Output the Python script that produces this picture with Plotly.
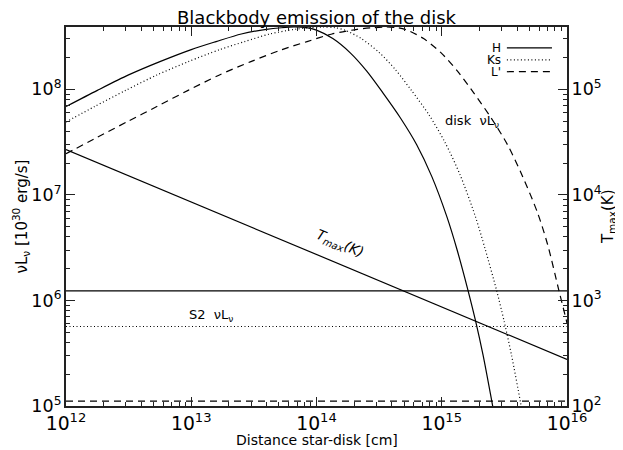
import plotly.graph_objects as go

# disk nuL_nu curves (distance in cm, nuL_nu in 1e30 erg/s)
h_dist = [1.00e12, 1.78e12, 3.16e12, 5.62e12, 1.00e13, 1.58e13, 2.51e13, 3.98e13, 5.25e13,
          6.61e13, 8.32e13, 1.00e14, 1.35e14, 1.86e14, 2.51e14, 3.39e14, 4.68e14, 6.31e14,
          8.32e14, 1.10e15, 1.32e15, 1.62e15, 1.86e15, 2.14e15, 2.51e15, 2.69e15]
h_lum = [6.86e7, 9.77e7, 1.368e8, 1.828e8, 2.377e8, 2.831e8, 3.342e8, 3.698e8, 3.828e8,
         3.89e8, 3.837e8, 3.63e8, 3.02e8, 2.213e8, 1.493e8, 9.25e7, 5.35e7, 2.985e7,
         1.496e7, 6.18e6, 3.07e6, 1.247e6, 6.43e5, 3.01e5, 1.107e5, 7.08e4]

ks_dist = [1.00e12, 1.69e12, 3.00e12, 5.33e12, 9.48e12, 1.69e13, 2.67e13, 4.24e13, 6.71e13,
           8.85e13, 1.11e14, 1.40e14, 1.69e14, 2.28e14, 3.14e14, 4.24e14, 5.71e14, 7.89e14,
           1.06e15, 1.40e15, 1.85e15, 2.22e15, 2.74e15, 3.14e15, 3.61e15, 4.24e15, 4.54e15]
ks_lum = [4.90e7, 6.86e7, 9.77e7, 1.368e8, 1.828e8, 2.377e8, 2.831e8, 3.342e8, 3.698e8,
          3.828e8, 3.89e8, 3.837e8, 3.63e8, 3.02e8, 2.25e8, 1.55e8, 9.8e7, 5.75e7,
          3.15e7, 1.55e7, 6.30e6, 3.07e6, 1.247e6, 6.43e5, 3.01e5, 1.107e5, 7.08e4]

lp_dist = [1.00e12, 1.78e12, 3.16e12, 5.31e12, 9.44e12, 1.68e13, 2.99e13, 5.31e13, 8.41e13,
           1.33e14, 2.11e14, 2.79e14, 3.51e14, 4.42e14, 5.31e14, 7.16e14, 9.89e14, 1.33e15,
           1.80e15, 2.48e15, 3.35e15, 4.42e15, 5.82e15, 7.00e15, 8.61e15, 9.89e15, 1.00e16]
lp_lum = [2.45e7, 3.51e7, 5.01e7, 6.86e7, 9.77e7, 1.368e8, 1.828e8, 2.377e8, 2.831e8,
          3.342e8, 3.698e8, 3.828e8, 3.89e8, 3.837e8, 3.63e8, 3.02e8, 2.213e8, 1.493e8,
          9.25e7, 5.35e7, 2.985e7, 1.496e7, 6.76e6, 3.39e6, 1.247e6, 6.43e5, 6.03e5]

# S2 nuL_nu levels (H, Ks, L')
s2_dist = [1e12, 1e16]
s2_h = 1.23e6
s2_ks = 5.66e5
s2_lp = 1.11e5

# maximum temperature of the disk (K), right axis
tmax_dist = [1e12, 1e16]
tmax = [2.69e4, 2.76e2]

bands = ["H", "Ks", "L'"]
dashes = ["solid", "1px,2.5px", "7px,5px"]

FONT = "DejaVu Sans"
lw = 1.2

fig = go.Figure()
curves = [(h_dist, h_lum), (ks_dist, ks_lum), (lp_dist, lp_lum)]
for (d, l), name, dsh in zip(curves, bands, dashes):
    fig.add_trace(go.Scatter(x=d, y=l, mode="lines", name=name, line_shape="spline",
                             line=dict(color="black", width=lw, dash=dsh, smoothing=0.8),
                             showlegend=False))

for lev, dsh in zip([s2_h, s2_ks, s2_lp], dashes):
    fig.add_trace(go.Scatter(x=s2_dist, y=[lev, lev], mode="lines",
                             line=dict(color="black", width=lw, dash=dsh), showlegend=False))

fig.add_trace(go.Scatter(x=tmax_dist, y=tmax, mode="lines", yaxis="y2",
                         line=dict(color="black", width=lw), showlegend=False))

axis_common = dict(type="log", showgrid=False, zeroline=False, showline=True, automargin=False,
                   linecolor="#222", linewidth=1.5, ticks="inside", ticklen=9,
                   tickcolor="#222", tickwidth=1, exponentformat="power", dtick=1,
                   tickfont=dict(family=FONT, size=15, color="black"),
                   minor=dict(ticks="inside", ticklen=4, tickcolor="#222", showgrid=False))

# the page body adds an 8px offset, so margins are shifted to keep the frame in place
fig.update_layout(
    width=623, height=450,
    margin=dict(l=58, r=64, t=19, b=52),
    paper_bgcolor="white", plot_bgcolor="white",
    font=dict(family=FONT, color="black"),
    title=dict(text="Blackbody emission of the disk", x=0.4952, xanchor="center",
               y=0.978, yanchor="middle", font=dict(size=18, family=FONT)),
    xaxis=dict(axis_common, range=[12, 16], mirror="ticks"),
    yaxis=dict(axis_common, range=[5, 8.59], tickfont=dict(family=FONT, size=14, color="black")),
    yaxis2=dict(axis_common, range=[2, 5.59], overlaying="y", side="right",
                tickfont=dict(family=FONT, size=14, color="black")),
)


def note(text, x, y, size, angle=0, anchor="center"):
    fig.add_annotation(text=text, xref="paper", yref="paper", x=x, y=y, xanchor=anchor,
                       yanchor="middle", textangle=angle, showarrow=False,
                       font=dict(size=size))


# axis titles
note("Distance star-disk [cm]", 0.5, -0.09, 14)
note("νL<sub>ν</sub> [10<sup>30</sup> erg/s]", -0.090, 0.5, 15, angle=-90)
note("T<sub>max</sub>(K)", 1.083, 0.5, 15, angle=-90)

# legend drawn IDL-style: label on the left, line sample on the right
leg_y = [0.945, 0.913, 0.882]
for name, dsh, yy in zip(bands, dashes, leg_y):
    fig.add_shape(type="line", xref="paper", yref="paper", x0=0.880, x1=0.970, y0=yy, y1=yy,
                  line=dict(color="black", width=lw, dash=dsh))
    note(name, 0.872, yy, 12, anchor="right")

note("disk  νL<sub>ν</sub>", 0.810, 0.751, 13)
note("S2  νL<sub>ν</sub>", 0.289, 0.238, 13)
note("<i>T<sub>max</sub>(K)</i>", 0.547, 0.428, 14, angle=23)

fig.write_html("out.html")
